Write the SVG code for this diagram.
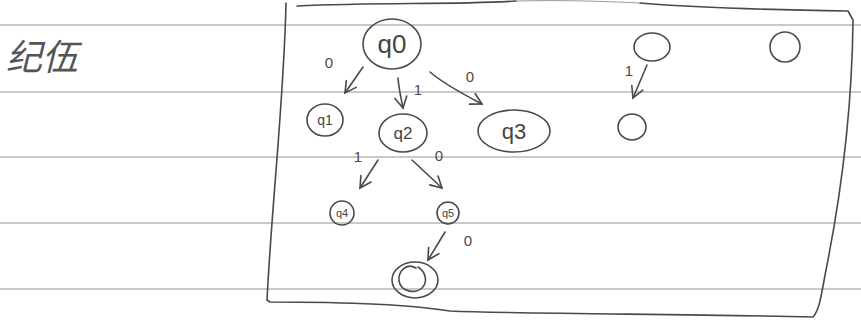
<svg xmlns="http://www.w3.org/2000/svg" width="861" height="326" viewBox="0 0 861 326">
<style>
.rule{stroke:#c9c9c9;stroke-width:2;fill:none}
.pen{stroke:#4a4a4a;stroke-width:1.6;fill:none;stroke-linecap:round;stroke-linejoin:round}
.lbl{font-family:"Liberation Sans",sans-serif;fill:#444;text-anchor:middle}
.el{font-family:"Liberation Sans",sans-serif;fill:#4a4a4a;text-anchor:middle;font-size:15px}
</style>
<defs>
<marker id="ah" viewBox="0 0 14 14" refX="12" refY="7" markerWidth="14" markerHeight="14" markerUnits="userSpaceOnUse" orient="auto">
<path d="M1,1 L12,7 L1,13" fill="none" stroke="#4a4a4a" stroke-width="1.6" stroke-linecap="round"/>
</marker>
</defs>
<rect width="861" height="326" fill="#fff"/>
<g id="paper-lines">
<line class="rule" x1="0" y1="25" x2="861" y2="25"/>
<line class="rule" x1="0" y1="92" x2="861" y2="92"/>
<line class="rule" x1="0" y1="157" x2="861" y2="157"/>
<line class="rule" x1="0" y1="223" x2="861" y2="223"/>
<line class="rule" x1="0" y1="289" x2="861" y2="289"/>
</g>
<g id="title">
<text x="42" y="70" font-family="'Noto Sans CJK SC',sans-serif" font-size="36" fill="#555" text-anchor="middle" font-style="italic">纪伍</text>
</g>
<g id="frame">
<path class="pen" d="M286,3 C284,100 272,200 267,300 L270,302 C330,302 400,303 450,311 C520,314 700,314 813,317 C820,310 822,290 826,270 C840,200 852,120 853,20 L848,11 C780,10 700,8 640,3"/>
<path class="pen" d="M297,6 C380,2 450,5 516,1"/>
<path d="M516,1 C560,0 600,1 640,3" fill="none" stroke="#9a9a9a" stroke-width="1"/>
</g>
<g id="q0">
<ellipse class="pen" cx="392" cy="44" rx="29" ry="25"/>
<text class="lbl" x="392" y="53" font-size="26">q0</text>
</g>
<g id="q1">
<ellipse class="pen" cx="325" cy="120" rx="18" ry="16"/>
<text class="lbl" x="325" y="125" font-size="14">q1</text>
</g>
<g id="q2">
<ellipse class="pen" cx="403" cy="133" rx="24" ry="19"/>
<text class="lbl" x="403" y="139" font-size="17">q2</text>
</g>
<g id="q3">
<ellipse class="pen" cx="514" cy="131" rx="36" ry="21"/>
<text class="lbl" x="514" y="139" font-size="22">q3</text>
</g>
<g id="q4">
<ellipse class="pen" cx="342" cy="213" rx="12" ry="12"/>
<text class="lbl" x="342" y="217" font-size="11">q4</text>
</g>
<g id="q5">
<ellipse class="pen" cx="448" cy="213" rx="11" ry="11"/>
<text class="lbl" x="448" y="217" font-size="11">q5</text>
</g>
<g id="q6">
<ellipse class="pen" cx="415" cy="280" rx="23" ry="18"/>
<path class="pen" d="M416,268 C406,262 398,272 399,281 C401,292 415,294 422,288 C428,282 426,272 418,267"/>
</g>
<g id="s1">
<ellipse class="pen" cx="652" cy="47" rx="18" ry="14"/>
</g>
<g id="s2">
<ellipse class="pen" cx="785" cy="47" rx="15" ry="15"/>
</g>
<g id="s3">
<ellipse class="pen" cx="632" cy="127" rx="14" ry="13"/>
</g>
<g id="connectors">
<path class="pen" d="M363,67 L345,93" marker-end="url(#ah)"/>
<path class="pen" d="M398,78 C399,90 401,98 403,108" marker-end="url(#ah)"/>
<path class="pen" d="M430,72 C445,85 465,95 482,104" marker-end="url(#ah)"/>
<path class="pen" d="M378,160 L360,188" marker-end="url(#ah)"/>
<path class="pen" d="M412,160 L442,188" marker-end="url(#ah)"/>
<path class="pen" d="M445,232 L428,260" marker-end="url(#ah)"/>
<path class="pen" d="M647,65 L633,98" marker-end="url(#ah)"/>
<text class="el" x="329" y="68">0</text>
<text class="el" x="418" y="95" font-size="11">1</text>
<text class="el" x="470" y="82">0</text>
<text class="el" x="358" y="162" font-size="11">1</text>
<text class="el" x="439" y="161">0</text>
<text class="el" x="468" y="246">0</text>
<text class="el" x="629" y="76" font-size="11">1</text>
</g>
</svg>
